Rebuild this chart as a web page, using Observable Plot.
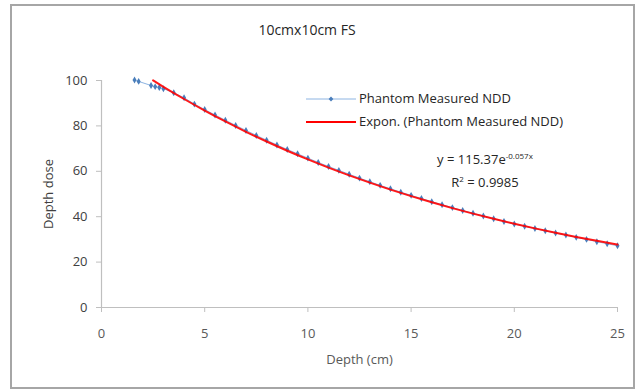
<!DOCTYPE html>
<html>
<head>
<meta charset="utf-8">
<script src="https://cdn.jsdelivr.net/npm/d3@7"></script>
<script src="https://cdn.jsdelivr.net/npm/@observablehq/plot@0.6"></script>
<style>
  body { margin: 0; background: #fff; font-family: "Open Sans", "Liberation Sans", sans-serif; }
  #wrap { position: relative; width: 636px; height: 389px; overflow: hidden; }
  #frame { position: absolute; left: 10px; top: 4px; width: 621px; height: 381px; border: 2px solid #a6a6a6; box-sizing: content-box; }
  #chart { position: absolute; left: 0; top: 0; }
  .txt { position: absolute; color: #262626; font-size: 13px; white-space: nowrap; }
  #title { left: 0; width: 614px; top: 20px; text-align: center; font-size: 14px; }
  .leg { display: flex; align-items: center; }
  #eq { text-align: center; line-height: 19px; }
  sup { font-size: 8px; vertical-align: 5px; }
</style>
</head>
<body>
<div id="wrap">
  <div id="frame"></div>
  <div id="chart"></div>
  <div class="txt" id="title">10cmx10cm FS</div>
  <div class="txt" id="legend" style="left:306px; top:87px; line-height:23px;">
    <div class="leg"><svg width="50" height="10"><line x1="0" y1="5" x2="50" y2="5" stroke="#8db4e2" stroke-width="1"/><path d="M25,2.6L27.4,5L25,7.4L22.6,5Z" fill="#4a7ebb"/></svg><span style="margin-left:3px">Phantom Measured NDD</span></div>
    <div class="leg"><svg width="50" height="10"><line x1="0" y1="5" x2="50" y2="5" stroke="#ff0000" stroke-width="2"/></svg><span style="margin-left:3px">Expon. (Phantom Measured NDD)</span></div>
  </div>
  <div class="txt" id="eq" style="left:420px; width:130px; top:146px;">
    y = 115.37e<sup>-0.057x</sup><br>R<sup>2</sup> = 0.9985
  </div>
</div>
<script>
// Measured NDD (depth in cm, dose in %)
const depth = [1.6, 1.8, 2.4, 2.6, 2.8, 3.0, 3.5, 4.0, 4.5, 5.0, 5.5, 6.0, 6.5, 7.0, 7.5, 8.0, 8.5, 9.0, 9.5, 10.0,
  10.5, 11.0, 11.5, 12.0, 12.5, 13.0, 13.5, 14.0, 14.5, 15.0, 15.5, 16.0, 16.5, 17.0, 17.5, 18.0, 18.5, 19.0, 19.5, 20.0,
  20.5, 21.0, 21.5, 22.0, 22.5, 23.0, 23.5, 24.0, 24.5, 25.0];
const dose = [100.2, 99.6, 97.8, 97.3, 96.9, 96.4, 94.6, 92.4, 89.6, 87.2, 84.8, 82.5, 80.2, 78.0, 75.8, 73.7, 71.6, 69.6, 67.7, 65.8,
  63.9, 62.1, 60.4, 58.7, 57.0, 55.4, 53.8, 52.3, 50.8, 49.4, 48.0, 46.6, 45.3, 44.0, 42.7, 41.5, 40.3, 39.1, 37.9, 36.8,
  35.8, 34.8, 33.8, 32.8, 31.9, 30.9, 30.0, 29.0, 28.1, 27.2];
// Exponential trendline values
const trendDepth = [2.5, 3, 4, 5, 6, 7, 8, 9, 10, 11, 12, 13, 14, 15, 16, 17, 18, 19, 20, 21, 22, 23, 24, 25];
const trendDose = [100.05, 97.23, 91.85, 86.76, 81.95, 77.41, 73.12, 69.07, 65.25, 61.63, 58.22, 54.99, 51.94, 49.07,
  46.35, 43.78, 41.35, 39.06, 36.90, 34.85, 32.92, 31.10, 29.38, 27.75];
const xTicks = [0, 5, 10, 15, 20, 25];
const yTicks = [0, 20, 40, 60, 80, 100];

const measured = depth.map((d, i) => ({x: d, y: dose[i]}));
const trend = trendDepth.map((d, i) => ({x: d, y: trendDose[i]}));

const chart = Plot.plot({
  width: 636,
  height: 389,
  marginLeft: 101,
  marginRight: 19,
  marginTop: 80,
  marginBottom: 82,
  style: {fontFamily: '"Open Sans", "Liberation Sans", sans-serif', fontSize: "13px", color: "#595959", background: "transparent"},
  x: {domain: [0, 25]},
  y: {domain: [0, 100]},
  marks: [
    Plot.ruleY([0], {stroke: "#bfbfbf", strokeWidth: 1.2}),
    Plot.ruleX([0], {stroke: "#bfbfbf", strokeWidth: 1.2}),
    Plot.axisX({ticks: xTicks, tickSize: 5, tickPadding: 16, stroke: "#bfbfbf", strokeOpacity: 1,
      label: "Depth (cm)", labelAnchor: "center", labelArrow: "none", labelOffset: 56, fill: "#595959"}),
    Plot.axisY({ticks: yTicks, tickSize: 5, tickPadding: 9, stroke: "#bfbfbf", strokeOpacity: 1,
      label: "Depth dose", labelAnchor: "center", labelArrow: "none", labelOffset: 58, fill: "#404040"}),
    Plot.line(measured, {x: "x", y: "y", stroke: "#8db4e2", strokeWidth: 1}),
    Plot.dot(measured, {x: "x", y: "y", symbol: "diamond", r: 2.1, fill: "#4a7ebb", stroke: "none"}),
    Plot.line(trend, {x: "x", y: "y", stroke: "#ff0000", strokeWidth: 2, curve: "natural", strokeOpacity: 0.9})
  ]
});
document.getElementById("chart").appendChild(chart);
</script>
</body>
</html>
